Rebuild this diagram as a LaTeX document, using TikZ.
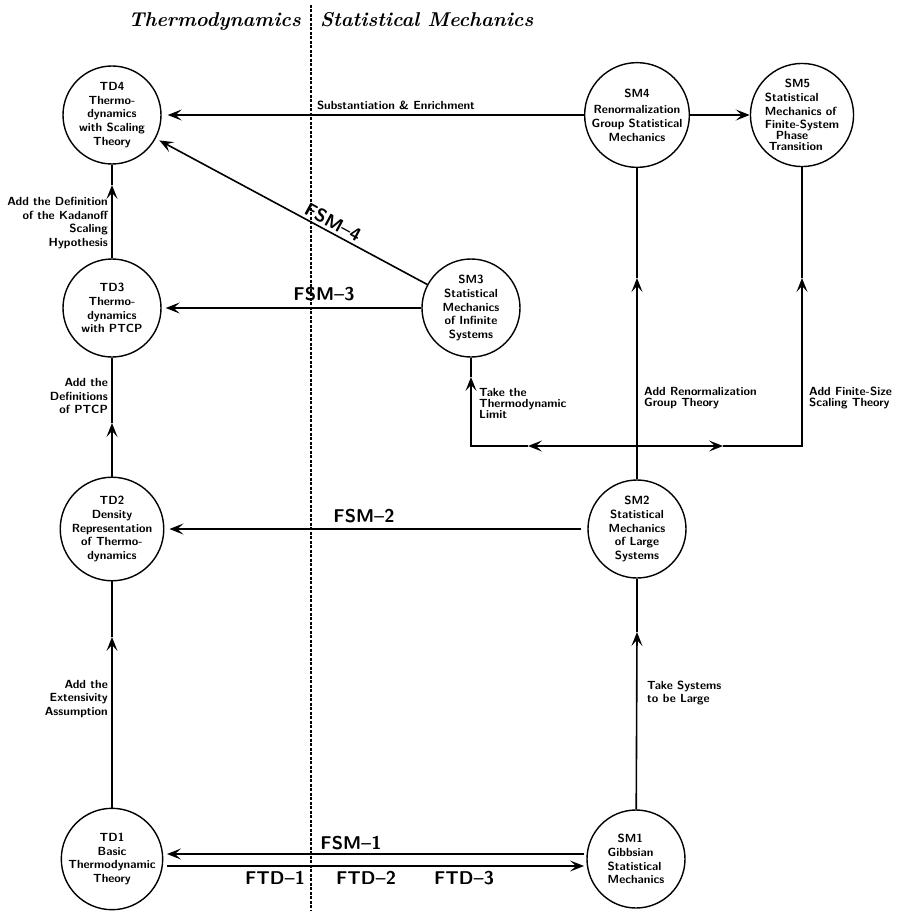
\documentclass[tikz,border=0pt]{standalone}
\usetikzlibrary{arrows.meta,calc}
\newcommand\mynfont{\sffamily\bfseries\fontsize{11.8}{13.7}\selectfont}
\newcommand\mytfont{\sffamily\bfseries\fontsize{11.8}{11}\selectfont}
\newcommand\mybigfont{\sffamily\bfseries\fontsize{18.5}{22}\selectfont}
\newcommand\myttlfont{\rmfamily\bfseries\itshape\fontsize{20}{24}\selectfont}
\tikzset{
  st/.style={circle,draw,line width=1.4pt,minimum size=98pt,inner sep=0pt,align=center,font=\mynfont},
  conn/.style={line width=1.6pt},
  arr/.style={conn,-{Stealth[length=14pt,width=11pt,inset=6pt]}},
  lbl/.style={font=\mynfont,inner sep=0pt},
  lblt/.style={font=\mytfont,inner sep=0pt},
  big/.style={font=\mybigfont,inner sep=0pt},
  ttl/.style={font=\myttlfont,inner sep=0pt}
}
\begin{document}
\begin{tikzpicture}[x=1pt,y=-1pt]
\useasboundingbox (0,0) rectangle (897,912);
% divider and titles
\draw[line width=1.1pt,dash pattern=on 3pt off 1.5pt] (311,5) -- (311,911);
\node[ttl,anchor=base east] (ttd) at (301,27) {Thermodynamics};
\node[ttl,anchor=base west] (tsm) at (320,27) {Statistical Mechanics};
% states
\node[st] (TD4) at (112,115) {TD4\\Thermo-\\dynamics\\with Scaling\\Theory};
\node[st] (TD3) at (112,308) {TD3\\Thermo-\\dynamics\\with PTCP};
\node[st] (TD2) at (112,529) {TD2\\Density\\Representation\\of Thermo-\\dynamics};
\node[st] (TD1) at (112,859) {TD1\\Basic\\Thermodynamic\\Theory};
\node[st,align=left] (SM1) at (636,859) {\hspace*{10pt}SM1\\Gibbsian\\Statistical\\Mechanics};
\node[st] (SM2) at (637,529) {SM2\\Statistical\\Mechanics\\of Large\\Systems};
\node[st] (SM3) at (471,308) {SM3\\Statistical\\Mechanics\\of Infinite\\Systems};
\node[st] (SM4) at (637,115) {SM4\\[3pt]Renormalization\\Group Statistical\\Mechanics};
\node[st,align=left] (SM5) at (802,115) {\hspace*{20pt}SM5\\Statistical\\Mechanics of\\Finite-System\\[-2.7pt]\hspace*{11pt}Phase\\[-2.7pt]\hspace*{4pt}Transition};
% helper coordinates
\coordinate (j) at (637,446);
\coordinate (jl) at (471,446);
\coordinate (jr) at (802,446);
\coordinate (aL) at (528,446);
\coordinate (aR) at (723,446);
\coordinate (a3) at (471,377);
\coordinate (a4) at (637,278);
\coordinate (a5) at (802,278);
\coordinate (aS1) at (637,632);
\coordinate (aT1) at (112,637);
\coordinate (aT2) at (112,423);
\coordinate (aT3) at (112,185);
% vertical connectors
\draw[arr] (TD1) -- (aT1); \draw[conn] (aT1) -- (TD2);
\draw[arr] (TD2) -- (aT2); \draw[conn] (aT2) -- (TD3);
\draw[arr] (TD3) -- (aT3); \draw[conn] (aT3) -- (TD4);
\draw[arr] (SM1) -- (aS1); \draw[conn] (aS1) -- (SM2);
\draw[conn] (SM2) -- (j);
\draw[arr] (j) -- (a4); \draw[conn] (a4) -- (SM4);
\draw[arr] (j) -- (aL);
\draw[arr] (aL) -- (jl) -- (a3); \draw[conn] (a3) -- (SM3);
\draw[arr] (j) -- (aR);
\draw[arr] (aR) -- (jr) -- (a5); \draw[conn] (a5) -- (SM5);
% horizontal connectors
\draw[arr,shorten >=6pt] (SM4) -- (TD4);
\draw[arr] (SM4) -- (SM5);
\draw[arr,shorten >=4pt] (SM3) -- (TD3);
\draw[arr,shorten >=4pt] (SM3) -- (TD4);
\draw[arr,shorten <=6pt,shorten >=5pt] (SM2) -- (TD2);
\draw[arr] ($(SM1)+(-52,-5)$) -- ($(TD1)+(55,-5)$);
\draw[arr] ($(TD1)+(55,7)$) -- ($(SM1)+(-52,7)$);
% labels
\node[lbl,align=right,anchor=east] (l1) at (108,223) {Add the Definition\\of the Kadanoff\\Scaling\\Hypothesis};
\node[lbl,align=right,anchor=east] (l2) at (108,396) {Add the\\Definitions\\of PTCP};
\node[lbl,align=right,anchor=east] (l3) at (108,699) {Add the\\Extensivity\\Assumption};
\node[lbl,align=left,anchor=west] (l4) at (647,693) {Take Systems\\to be Large};
\node[lblt,align=left,anchor=west] (l5) at (479,403) {Take the\\Thermodynamic\\Limit};
\node[lblt,align=left,anchor=west] (l6) at (644,398) {Add Renormalization\\Group Theory};
\node[lblt,align=left,anchor=west] (l7) at (809,398) {Add Finite-Size\\Scaling Theory};
\node[lbl,anchor=base] (l8) at (396,110) {Substantiation \& Enrichment};
\node[big,anchor=base] (f1) at (351,849) {FSM–1};
\node[big,anchor=base] (f2) at (364,522) {FSM–2};
\node[big,anchor=base] (f3) at (324,300) {FSM–3};
\node[big,anchor=base,rotate=-28.3] (f4) at (330,228) {FSM–4};
\node[big,anchor=base] (g1) at (275,884) {FTD–1};
\node[big,anchor=base] (g2) at (366,884) {FTD–2};
\node[big,anchor=base] (g3) at (464,884) {FTD–3};
\end{tikzpicture}
\end{document}
